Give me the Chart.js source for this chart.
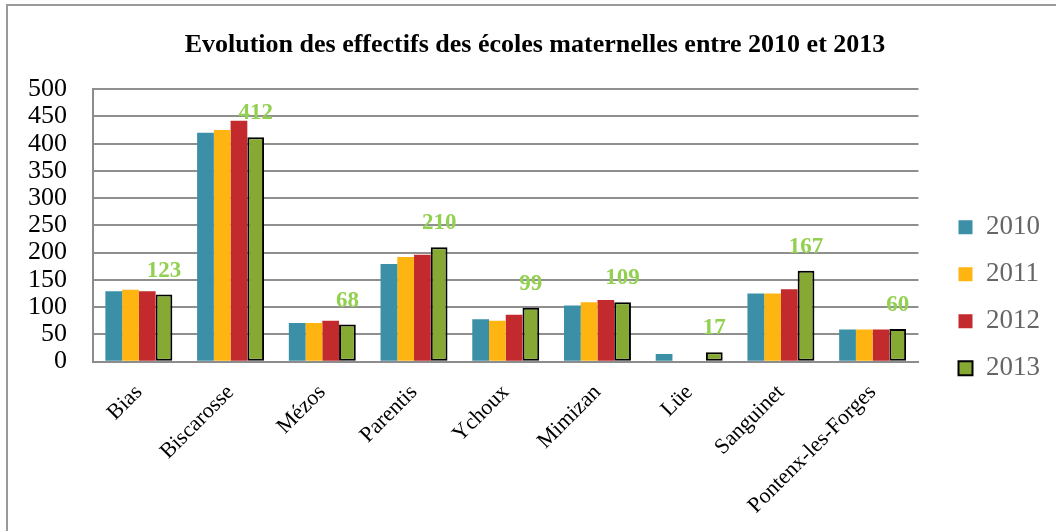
<!DOCTYPE html>
<html lang="fr">
<head>
<meta charset="utf-8">
<title>Effectifs des écoles maternelles</title>
<script src="https://cdn.jsdelivr.net/npm/chart.js@4/dist/chart.umd.min.js"></script>
<style>
  html, body { margin: 0; padding: 0; background: #fff; }
  #wrap { position: relative; width: 1056px; height: 531px; }
  #frame {
    position: absolute; left: 6px; top: 4px; right: 0; bottom: 0;
    border-left: 2px solid #9a9a9a; border-top: 2px solid #9a9a9a;
    pointer-events: none;
  }
  canvas { position: absolute; left: 0; top: 0; }
</style>
</head>
<body>
<div id="wrap">
  <canvas id="chart" width="1056" height="531"></canvas>
  <div id="frame"></div>
</div>
<script>
// communes et effectifs par année
const communes = ['Bias', 'Biscarosse', 'Mézos', 'Parentis', 'Ychoux', 'Mimizan', 'Lüe', 'Sanguinet', 'Pontenx-les-Forges'];
const annees = ['2010', '2011', '2012', '2013'];
const eff2010 = [129, 420, 71, 179, 78, 103, 14, 125, 59];
const eff2011 = [132, 425, 71, 192, 75, 109, 0, 125, 59];
const eff2012 = [129, 442, 75, 196, 86, 113, 0, 133, 59];
const eff2013 = [123, 412, 68, 210, 99, 109, 17, 167, 60];
const yTicks = [0, 50, 100, 150, 200, 250, 300, 350, 400, 450, 500];

const couleurs = ['#3b8fa7', '#ffb511', '#c22a2e', '#85a933'];
const police = "'Liberation Serif', 'DejaVu Serif', serif";

// valeurs 2013 écrites au-dessus des barres
const etiquettes2013 = {
  id: 'etiquettes2013',
  afterDatasetsDraw(chart) {
    const meta = chart.getDatasetMeta(3);
    const ctx = chart.ctx;
    ctx.save();
    ctx.fillStyle = '#92d050';
    ctx.font = "bold 23px " + police;
    ctx.textAlign = 'center';
    ctx.textBaseline = 'middle';
    meta.data.forEach((bar, i) => {
      ctx.fillText(eff2013[i], bar.x, bar.y - 24);
    });
    ctx.restore();
  }
};

const series = [eff2010, eff2011, eff2012, eff2013];

new Chart(document.getElementById('chart'), {
  type: 'bar',
  data: {
    labels: communes,
    datasets: series.map((vals, i) => ({
      label: annees[i],
      data: vals,
      backgroundColor: couleurs[i],
      borderColor: i === 3 ? '#000' : couleurs[i],
      borderWidth: i === 3 ? 2 : 0,
      borderSkipped: false,
      categoryPercentage: 0.73,
      barPercentage: 1
    }))
  },
  options: {
    responsive: false,
    animation: false,
    layout: { padding: { left: 20, right: 6, top: 6, bottom: 2 } },
    plugins: {
      title: {
        display: true,
        text: 'Evolution des effectifs des écoles maternelles entre 2010 et 2013',
        color: '#000',
        font: { family: police, size: 26, weight: 'bold' },
        padding: { top: 24, bottom: 28 }
      },
      legend: {
        position: 'right',
        // titre vide : décale la colonne vers le bas
        title: { display: true, text: '', font: { size: 12 }, padding: { top: 24, bottom: 22 } },
        labels: {
          color: '#000',
          font: { family: police, size: 27 },
          boxWidth: 14,
          boxHeight: 14,
          padding: 20,
          generateLabels(chart) {
            return chart.data.datasets.map((ds, i) => ({
              text: ds.label,
              fillStyle: ds.backgroundColor,
              strokeStyle: i === 3 ? '#000' : ds.backgroundColor,
              lineWidth: i === 3 ? 2 : 0,
              datasetIndex: i
            }));
          }
        }
      },
      tooltip: { enabled: false }
    },
    scales: {
      x: {
        grid: { display: false },
        border: { display: true, color: '#8c8c8c', width: 2 },
        ticks: {
          color: '#000',
          font: { family: police, size: 22 },
          maxRotation: 45,
          minRotation: 45,
          padding: 10
        }
      },
      y: {
        min: 0,
        max: 500,
        afterBuildTicks(scale) {
          scale.ticks = yTicks.map(v => ({ value: v }));
        },
        afterFit(scale) { scale.width = 73; },
        grid: { color: '#8f8f8f', lineWidth: 2, drawTicks: false },
        border: { display: true, color: '#8c8c8c', width: 2 },
        ticks: {
          color: '#000',
          font: { family: police, size: 26 },
          padding: 26,
          autoSkip: false
        }
      },
      // axe vide à droite : marge entre le tracé et la légende
      marge: {
        type: 'linear',
        position: 'right',
        grid: { display: false },
        border: { display: false },
        ticks: { display: false },
        afterFit(scale) { scale.width = 20; }
      }
    }
  },
  plugins: [etiquettes2013]
});
</script>
</body>
</html>
